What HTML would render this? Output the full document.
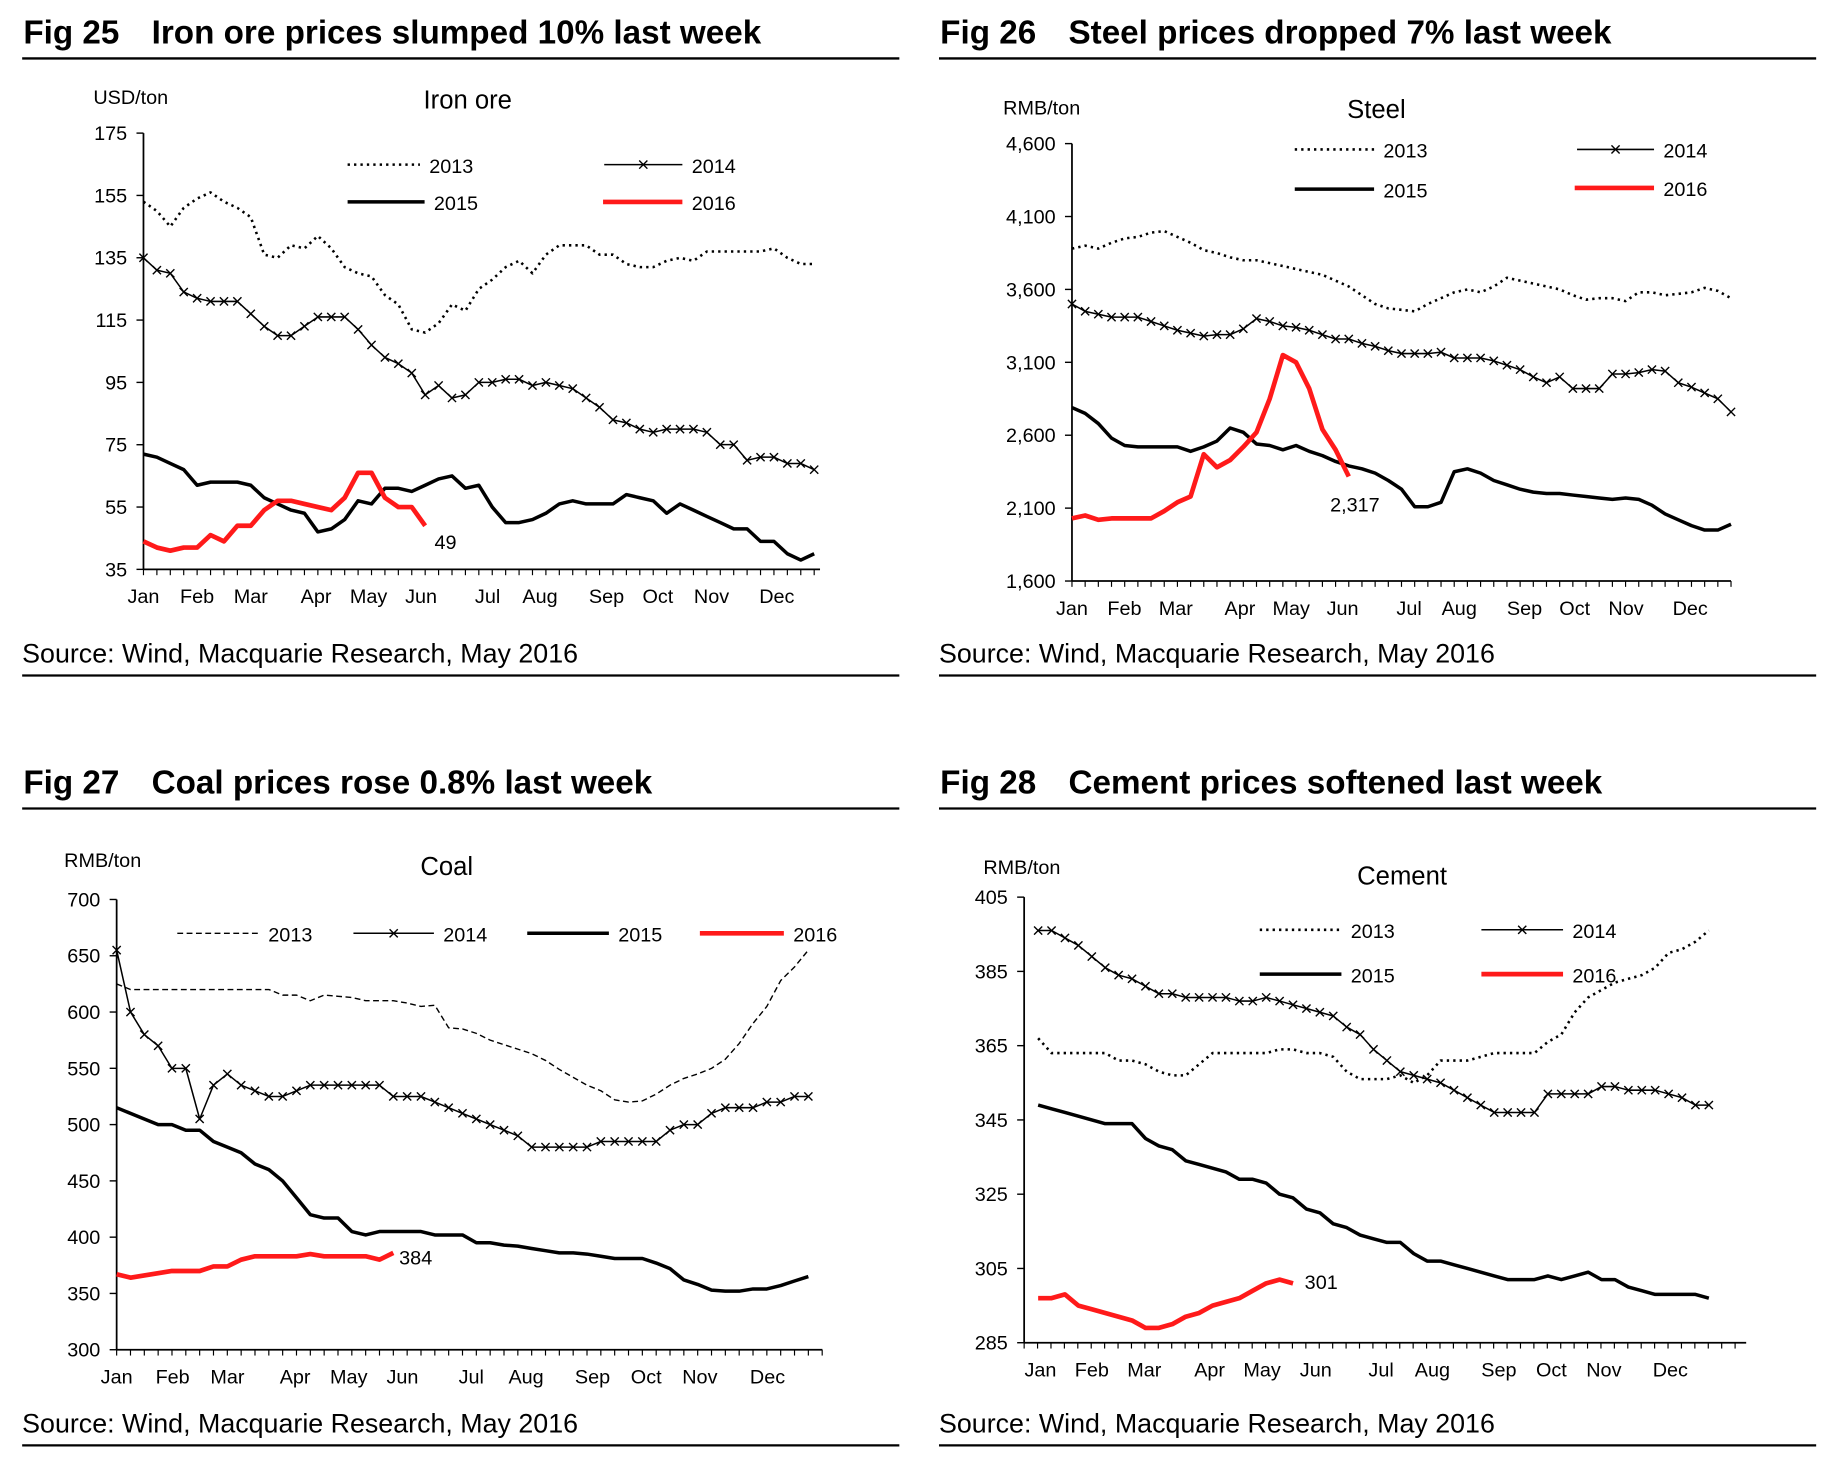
<!DOCTYPE html>
<html><head><meta charset="utf-8"><style>
html,body{margin:0;padding:0;background:#fff;}
svg{display:block;font-family:"Liberation Sans",Arial,sans-serif;}
</style></head><body>
<svg id="root" width="1829" height="1477" viewBox="0 0 1568 1266" xmlns="http://www.w3.org/2000/svg"></svg>
<script>
// ===== Fig 25 Iron ore =====
const ironMonths=["Jan","Feb","Mar","Apr","May","Jun","Jul","Aug","Sep","Oct","Nov","Dec"];
const ironTicks=[35,55,75,95,115,135,155,175];
const iron2013=[153,150,145,151,154,156,153,151,148,136,135,139,138,142,138,132,130,129,123,120,112,111,114,120,118,125,128,132,134,130,136,139,139,139,136,136,133,132,132,134,135,134,137,137,137,137,137,138,135,133,133];
const iron2014=[135,131,130,124,122,121,121,121,117,113,110,110,113,116,116,116,112,107,103,101,98,91,94,90,91,95,95,96,96,94,95,94,93,90,87,83,82,80,79,80,80,80,79,75,75,70,71,71,69,69,67];
const iron2015=[72,71,69,67,62,63,63,63,62,58,56,54,53,47,48,51,57,56,61,61,60,62,64,65,61,62,55,50,50,51,53,56,57,56,56,56,59,58,57,53,56,54,52,50,48,48,44,44,40,38,40];
const iron2016=[44,42,41,42,42,46,44,49,49,54,57,57,56,55,54,58,66,66,58,55,55,49];
const ironLast="49";
// ===== Fig 26 Steel =====
const steelMonths=["Jan","Feb","Mar","Apr","May","Jun","Jul","Aug","Sep","Oct","Nov","Dec"];
const steelTicks=[1600,2100,2600,3100,3600,4100,4600];
const steelTickLabels=["1,600","2,100","2,600","3,100","3,600","4,100","4,600"];
const steel2013=[3880,3900,3880,3920,3950,3960,3990,4000,3960,3920,3870,3850,3820,3800,3800,3780,3760,3740,3720,3700,3660,3620,3560,3500,3470,3460,3450,3500,3540,3580,3600,3580,3620,3680,3660,3640,3620,3600,3560,3530,3540,3540,3520,3580,3580,3560,3570,3580,3610,3590,3540];
const steel2014=[3500,3450,3430,3410,3410,3410,3380,3350,3320,3300,3280,3290,3290,3330,3400,3380,3350,3340,3320,3290,3260,3260,3230,3210,3180,3160,3160,3160,3170,3130,3130,3130,3110,3080,3050,3000,2960,3000,2920,2920,2920,3020,3020,3030,3050,3040,2960,2930,2890,2850,2760];
const steel2015=[2790,2750,2680,2580,2530,2520,2520,2520,2520,2490,2520,2560,2650,2620,2540,2530,2500,2530,2490,2460,2420,2390,2370,2340,2290,2230,2110,2110,2140,2350,2370,2340,2290,2260,2230,2210,2200,2200,2190,2180,2170,2160,2170,2160,2120,2060,2020,1980,1950,1950,1990];
const steel2016=[2030,2050,2020,2030,2030,2030,2030,2080,2140,2180,2470,2380,2430,2520,2620,2850,3150,3100,2920,2640,2500,2317];
const steelLast="2,317";
// ===== Fig 27 Coal =====
const coalMonths=["Jan","Feb","Mar","Apr","May","Jun","Jul","Aug","Sep","Oct","Nov","Dec"];
const coalTicks=[300,350,400,450,500,550,600,650,700];
const coal2013=[625,620,620,620,620,620,620,620,620,620,620,620,615,615,610,615,614,613,610,610,610,608,605,606,586,585,581,575,571,567,563,557,549,542,535,530,522,520,521,527,535,541,545,550,558,572,590,605,628,640,655];
const coal2014=[655,600,580,570,550,550,505,535,545,535,530,525,525,530,535,535,535,535,535,535,525,525,525,520,515,510,505,500,495,490,480,480,480,480,480,485,485,485,485,485,495,500,500,510,515,515,515,520,520,525,525];
const coal2015=[515,510,505,500,500,495,495,485,480,475,465,460,450,435,420,417,417,405,402,405,405,405,405,402,402,402,395,395,393,392,390,388,386,386,385,383,381,381,381,377,372,362,358,353,352,352,354,354,357,361,365];
const coal2016=[367,364,366,368,370,370,370,374,374,380,383,383,383,383,385,383,383,383,383,380,386];
const coalLast="384";
// ===== Fig 28 Cement =====
const cemMonths=["Jan","Feb","Mar","Apr","May","Jun","Jul","Aug","Sep","Oct","Nov","Dec"];
const cemTicks=[285,305,325,345,365,385,405];
const cem2013=[367,363,363,363,363,363,361,361,360,358,357,357,360,363,363,363,363,363,364,364,363,363,362,358,356,356,356,357,355,357,361,361,361,362,363,363,363,363,366,368,374,378,380,382,383,384,386,390,391,393,396];
const cem2014=[396,396,394,392,389,386,384,383,381,379,379,378,378,378,378,377,377,378,377,376,375,374,373,370,368,364,361,358,357,356,355,353,351,349,347,347,347,347,352,352,352,352,354,354,353,353,353,352,351,349,349];
const cem2015=[349,348,347,346,345,344,344,344,340,338,337,334,333,332,331,329,329,328,325,324,321,320,317,316,314,313,312,312,309,307,307,306,305,304,303,302,302,302,303,302,303,304,302,302,300,299,298,298,298,298,297];
const cem2016=[297,297,298,295,294,293,292,291,289,289,290,292,293,295,296,297,299,301,302,301];
const cemLast="301";

const NS="http://www.w3.org/2000/svg";
const root=document.getElementById('root');
function el(tag,attrs,parent,txt){const e=document.createElementNS(NS,tag);for(const k in attrs)e.setAttribute(k,attrs[k]);if(txt!==undefined)e.textContent=txt;(parent||root).appendChild(e);return e;}

function chart(c){
  const g=el('g',{});
  
  
  const yS=v=>c.y0-(v-c.vmin)/(c.vmax-c.vmin)*(c.y0-c.y1);
  const xS=i=>c.xs+i*c.step;
  const t=el('text',{x:c.fx+1,y:c.fy,'font-size':28.5,'font-weight':'bold'},g,c.fig);
  
  
  const t2=el('text',{x:c.fx+111,y:c.fy,'font-size':28.5,'font-weight':'bold'},g,c.title);
  
  
  el('line',{x1:c.fx,x2:c.fx+752,y1:c.fy+13,y2:c.fy+13,stroke:'#000','stroke-width':2},g);
  const s=el('text',{x:c.fx,y:c.sy,'font-size':23},g,'Source: Wind, Macquarie Research, May 2016');
  
  
  el('line',{x1:c.fx,x2:c.fx+752,y1:c.sy+11,y2:c.sy+11,stroke:'#000','stroke-width':2},g);
  const ct=el('text',{x:c.ctx,y:c.cty,'font-size':22,'text-anchor':'middle'},g,c.ctitle);
  
  
  const u=el('text',{x:c.ux,y:c.uy,'font-size':17},g,c.unit);
  
  
  const ya=el('line',{x1:c.ax,x2:c.ax,y1:c.y1,y2:c.y0,stroke:'#000','stroke-width':1.5},g);
  
  
  const xa=el('line',{x1:c.ax,x2:c.xend,y1:c.y0,y2:c.y0,stroke:'#000','stroke-width':1.5},g);
  
  
  c.ticks.forEach((v,i)=>{
    el('line',{x1:c.ax-6,x2:c.ax,y1:yS(v),y2:yS(v),stroke:'#000','stroke-width':1.2},g);
    const tl=el('text',{x:c.ax-14,y:yS(v)+6,'font-size':17,'text-anchor':'end'},g,c.tickLabels?c.tickLabels[i]:String(v));
    
    
  });
  for(let x=c.ax;x<=c.xend+0.5;x+=c.step){el('line',{x1:x,x2:x,y1:c.y0,y2:c.y0+5,stroke:'#000','stroke-width':1},g);}
  c.months.forEach((m,i)=>{
    const ml=el('text',{x:c.mx[i],y:c.y0+29,'font-size':17,'text-anchor':'middle'},g,m);
    
    
  });
  const pts=arr=>arr.map((v,i)=>xS(i).toFixed(1)+','+yS(v).toFixed(1)).join(' ');
  const styles={
    dot:{stroke:'#000','stroke-width':2.2,'stroke-dasharray':'2 3.5',fill:'none'},
    dash:{stroke:'#000','stroke-width':1.2,'stroke-dasharray':'5 3',fill:'none'},
    x:{stroke:'#000','stroke-width':1.3,fill:'none'},
    bold:{stroke:'#000','stroke-width':3,fill:'none'},
    red:{stroke:'#ff1a1a','stroke-width':4,fill:'none'}
  };
  c.series.forEach(sr=>{
    const p=el('polyline',Object.assign({points:pts(sr.data),'stroke-linejoin':'round'},styles[sr.style]),g);
    
    
    if(sr.style==='x'){sr.data.forEach((v,i)=>{const X=xS(i),Y=yS(v);el('path',{d:`M${X-3.5},${Y-3.5}L${X+3.5},${Y+3.5}M${X-3.5},${Y+3.5}L${X+3.5},${Y-3.5}`,stroke:'#000','stroke-width':1.2},g);});}
    const L=sr.leg;
    const lg=el('g',{},g);
    
    
    el('line',Object.assign({x1:L[0],x2:L[1],y1:L[2],y2:L[2]},styles[sr.style]),lg);
    if(sr.style==='x'){const X=(L[0]+L[1])/2,Y=L[2];el('path',{d:`M${X-3.5},${Y-3.5}L${X+3.5},${Y+3.5}M${X-3.5},${Y+3.5}L${X+3.5},${Y-3.5}`,stroke:'#000','stroke-width':1.2},lg);}
    el('text',{x:L[1]+8,y:L[2]+7,'font-size':17},lg,sr.key);
  });
  const red=c.series[c.series.length-1].data;
  const ll=el('text',{x:xS(red.length-1)+c.lbl[0],y:yS(red[red.length-1])+c.lbl[1],'font-size':17},g,c.last);
  
  
}

chart({name:'iron-ore-chart',fig:'Fig 25',title:'Iron ore prices slumped 10% last week',fx:19,fy:37,sy:568,
  ctitle:'Iron ore',ctx:401,cty:93,unit:'USD/ton',ux:80,uy:89,ax:123,xend:703,y0:488,y1:114,vmin:35,vmax:175,
  xs:123,step:11.5,ticks:ironTicks,months:ironMonths,mx:[123,169,215,271,316,361,418,463,520,564,610,666],
  series:[{key:'2013',data:iron2013,style:'dot',leg:[298,360,141]},{key:'2014',data:iron2014,style:'x',leg:[518,585,141]},
  {key:'2015',data:iron2015,style:'bold',leg:[298,364,173]},{key:'2016',data:iron2016,style:'red',leg:[517,585,173]}],
  last:ironLast,lbl:[8,20]});
chart({name:'steel-chart',fig:'Fig 26',title:'Steel prices dropped 7% last week',fx:805,fy:37,sy:568,
  ctitle:'Steel',ctx:1180,cty:101,unit:'RMB/ton',ux:860,uy:98,ax:919,xend:1484,y0:498,y1:123,vmin:1600,vmax:4600,
  xs:919,step:11.3,ticks:steelTicks,tickLabels:steelTickLabels,months:steelMonths,mx:[919,964,1008,1063,1107,1151,1208,1251,1307,1350,1394,1449],
  series:[{key:'2013',data:steel2013,style:'dot',leg:[1110,1178,128]},{key:'2014',data:steel2014,style:'x',leg:[1352,1418,128]},
  {key:'2015',data:steel2015,style:'bold',leg:[1110,1178,162]},{key:'2016',data:steel2016,style:'red',leg:[1350,1418,161]}],
  last:steelLast,lbl:[-16,30]});
chart({name:'coal-chart',fig:'Fig 27',title:'Coal prices rose 0.8% last week',fx:19,fy:680,sy:1228,
  ctitle:'Coal',ctx:383,cty:750,unit:'RMB/ton',ux:55,uy:743,ax:100,xend:705,y0:1157,y1:771,vmin:300,vmax:700,
  xs:100,step:11.86,ticks:coalTicks,months:coalMonths,mx:[100,148,195,253,299,345,404,451,508,554,600,658],
  series:[{key:'2013',data:coal2013,style:'dash',leg:[152,222,800]},{key:'2014',data:coal2014,style:'x',leg:[303,372,800]},
  {key:'2015',data:coal2015,style:'bold',leg:[452,522,800]},{key:'2016',data:coal2016,style:'red',leg:[600,672,800]}],
  last:coalLast,lbl:[5,10]});
chart({name:'cement-chart',fig:'Fig 28',title:'Cement prices softened last week',fx:805,fy:680,sy:1228,
  ctitle:'Cement',ctx:1202,cty:758,unit:'RMB/ton',ux:843,uy:749,ax:878,xend:1497,y0:1151,y1:769,vmin:285,vmax:405,
  xs:890,step:11.5,ticks:cemTicks,months:cemMonths,mx:[892,936,981,1037,1082,1128,1184,1228,1285,1330,1375,1432],
  series:[{key:'2013',data:cem2013,style:'dot',leg:[1080,1150,797]},{key:'2014',data:cem2014,style:'x',leg:[1270,1340,797]},
  {key:'2015',data:cem2015,style:'bold',leg:[1080,1150,835]},{key:'2016',data:cem2016,style:'red',leg:[1270,1340,835]}],
  last:cemLast,lbl:[10,5]});
</script>
</body></html>
